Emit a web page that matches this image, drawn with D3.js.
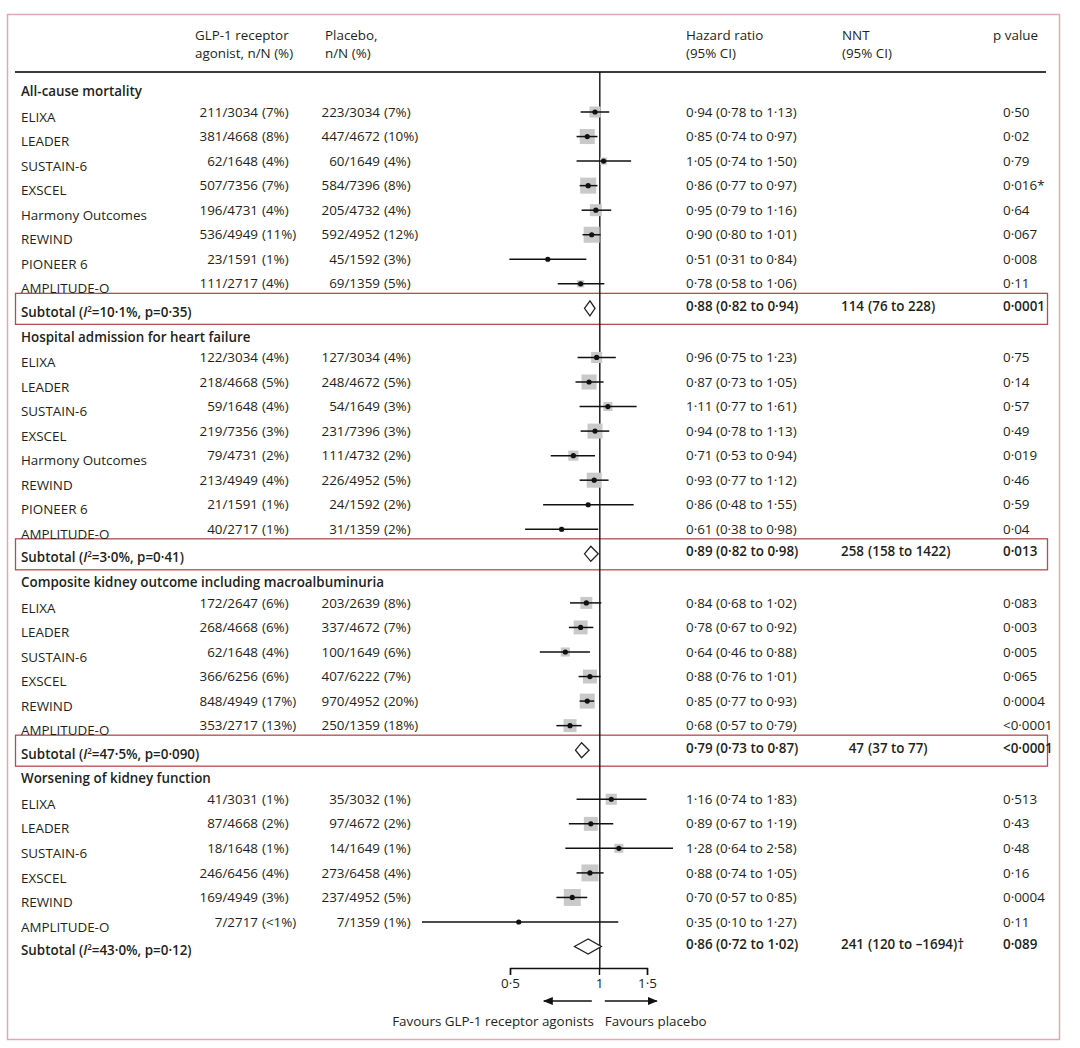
<!DOCTYPE html>
<html>
<head>
<meta charset="utf-8">
<script src="https://cdn.jsdelivr.net/npm/d3@7/dist/d3.min.js"></script>
<style>
  html, body { margin: 0; padding: 0; background: #fff; }
  svg { display: block; }
  text { font-family: "Open Sans", "Noto Sans", sans-serif; fill: #231f20; }
</style>
</head>
<body>
<svg id="chart" width="1080" height="1048"></svg>
<script>
// ---------------- DATA ----------------
const sectionTitles = [
  "All-cause mortality",
  "Hospital admission for heart failure",
  "Composite kidney outcome including macroalbuminuria",
  "Worsening of kidney function"
];
const studySection = [0,0,0,0,0,0,0,0, 1,1,1,1,1,1,1,1, 2,2,2,2,2,2, 3,3,3,3,3,3];
const studyNames = [
  "ELIXA","LEADER","SUSTAIN-6","EXSCEL","Harmony Outcomes","REWIND","PIONEER 6","AMPLITUDE-O",
  "ELIXA","LEADER","SUSTAIN-6","EXSCEL","Harmony Outcomes","REWIND","PIONEER 6","AMPLITUDE-O",
  "ELIXA","LEADER","SUSTAIN-6","EXSCEL","REWIND","AMPLITUDE-O",
  "ELIXA","LEADER","SUSTAIN-6","EXSCEL","REWIND","AMPLITUDE-O"
];
const glpEvents = [
  "211/3034","381/4668","62/1648","507/7356","196/4731","536/4949","23/1591","111/2717",
  "122/3034","218/4668","59/1648","219/7356","79/4731","213/4949","21/1591","40/2717",
  "172/2647","268/4668","62/1648","366/6256","848/4949","353/2717",
  "41/3031","87/4668","18/1648","246/6456","169/4949","7/2717"
];
const glpPct = [
  "(7%)","(8%)","(4%)","(7%)","(4%)","(11%)","(1%)","(4%)",
  "(4%)","(5%)","(4%)","(3%)","(2%)","(4%)","(1%)","(1%)",
  "(6%)","(6%)","(4%)","(6%)","(17%)","(13%)",
  "(1%)","(2%)","(1%)","(4%)","(3%)","(<1%)"
];
const placeboEvents = [
  "223/3034","447/4672","60/1649","584/7396","205/4732","592/4952","45/1592","69/1359",
  "127/3034","248/4672","54/1649","231/7396","111/4732","226/4952","24/1592","31/1359",
  "203/2639","337/4672","100/1649","407/6222","970/4952","250/1359",
  "35/3032","97/4672","14/1649","273/6458","237/4952","7/1359"
];
const placeboPct = [
  "(7%)","(10%)","(4%)","(8%)","(4%)","(12%)","(3%)","(5%)",
  "(4%)","(5%)","(3%)","(3%)","(2%)","(5%)","(2%)","(2%)",
  "(8%)","(7%)","(6%)","(7%)","(20%)","(18%)",
  "(1%)","(2%)","(1%)","(4%)","(5%)","(1%)"
];
const hr = [0.94,0.85,1.05,0.86,0.95,0.90,0.51,0.78, 0.96,0.87,1.11,0.94,0.71,0.93,0.86,0.61, 0.84,0.78,0.64,0.88,0.85,0.68, 1.16,0.89,1.28,0.88,0.70,0.35];
const hrLow = [0.78,0.74,0.74,0.77,0.79,0.80,0.31,0.58, 0.75,0.73,0.77,0.78,0.53,0.77,0.48,0.38, 0.68,0.67,0.46,0.76,0.77,0.57, 0.74,0.67,0.64,0.74,0.57,0.10];
const hrHigh = [1.13,0.97,1.50,0.97,1.16,1.01,0.84,1.06, 1.23,1.05,1.61,1.13,0.94,1.12,1.55,0.98, 1.02,0.92,0.88,1.01,0.93,0.79, 1.83,1.19,2.58,1.05,0.85,1.27];
// study weight (%) - drives marker square area
const studyWeight = [12,22,5,25,14,25,1.6,5, 12,22,8,22,10,22,0.9,2.4, 14,19,8,19,22,16.5, 12,19,8,28,28,1.6];
const pValues = [
  "0·50","0·02","0·79","0·016*","0·64","0·067","0·008","0·11",
  "0·75","0·14","0·57","0·49","0·019","0·46","0·59","0·04",
  "0·083","0·003","0·005","0·065","0·0004","<0·0001",
  "0·513","0·43","0·48","0·16","0·0004","0·11"
];
// subtotals
const subI2 = ["10·1%","3·0%","47·5%","43·0%"];
const subHetP = ["0·35","0·41","0·090","0·12"];
const subHr = [0.88,0.89,0.79,0.86];
const subLow = [0.82,0.82,0.73,0.72];
const subHigh = [0.94,0.98,0.87,1.02];
const subNNT = ["114","258","47","241"];
const subNNTci = ["(76 to 228)","(158 to 1422)","(37 to 77)","(120 to –1694)†"];
const subP = ["0·0001","0·013","<0·0001","0·089"];
const subBoxed = [true,true,true,false];
// axis
const axisTicks = [0.5, 1, 1.5];
const axisTickLabels = ["0·5","1","1·5"];

// ---------------- LAYOUT ----------------
const svg = d3.select("#chart");
const FS = 13.4;
const BW = 600;
const textColor = "#231f20";
const boxColor = "#b94a4f";

// build rows
const rows = [];
let idx = 0;
sectionTitles.forEach((t, s) => {
  rows.push({type: "header", s, i: idx++, label: t});
  studyNames.forEach((n, k) => {
    if (studySection[k] === s) rows.push({type: "study", s, k, i: idx++});
  });
  rows.push({type: "subtotal", s, i: idx++});
});

const y = d3.scaleLinear().domain([1, 34]).range([112, 922]);
const x = d3.scaleLog().domain([0.1, 2.58]).range([422, 673]);
const axisScale = d3.scaleLog().domain([0.5, 1, 1.5]).range([510, 599, 647]);
const size = d3.scaleSqrt().domain([0, 25]).range([0, 16]);
const fmt = v => d3.format(".2f")(v).replace(".", "·");
const hrText = (a, b, c) => `${fmt(a)} (${fmt(b)} to ${fmt(c)})`;

const colGLP = 258, colPla = 380, colHR = 686, colNNT = 864, colP = 1003, colLabel = 21;
const base = 4.6; // center -> baseline

// frame
svg.append("rect").attr("x", 7.5).attr("y", 14.5).attr("width", 1052).attr("height", 1025)
  .attr("fill", "none").attr("stroke", "#dcaab1").attr("stroke-width", 1.5);

// headers
const hdr = svg.append("g").attr("font-size", FS);
function hline(xx, lines, anchor) {
  lines.forEach((l, j) => hdr.append("text").attr("x", xx).attr("y", 35 + j * 18 + base)
    .attr("text-anchor", anchor || "start").text(l));
}
hline(195, ["GLP-1 receptor", "agonist, n/N (%)"]);
hline(325, ["Placebo,", "n/N (%)"]);
hline(686, ["Hazard ratio", "(95% CI)"]);
hline(842, ["NNT", "(95% CI)"]);
hline(1038, ["p value"], "end");

svg.append("line").attr("x1", 15).attr("x2", 1046).attr("y1", 72).attr("y2", 72)
  .attr("stroke", "#3a3a3a").attr("stroke-width", 2);

// subtotal boxes
rows.filter(r => r.type === "subtotal" && subBoxed[r.s]).forEach(r => {
  svg.append("rect").attr("x", 15.5).attr("y", y(r.i) - 15).attr("width", 1032).attr("height", 31)
    .attr("fill", "none").attr("stroke", boxColor).attr("stroke-width", 1.3);
});

// reference line at HR = 1
svg.append("line").attr("x1", x(1)).attr("x2", x(1)).attr("y1", 72).attr("y2", 968)
  .attr("stroke", "#111").attr("stroke-width", 1.4);

const g = svg.append("g").attr("font-size", FS);

rows.forEach(r => {
  const cy = y(r.i);
  if (r.type === "header") {
    g.append("text").attr("x", colLabel).attr("y", cy + 4 + base).attr("font-weight", BW).text(r.label);
  } else if (r.type === "study") {
    const k = r.k;
    g.append("text").attr("x", colLabel).attr("y", cy + 5 + base).text(studyNames[k]);
    g.append("text").attr("x", colGLP).attr("y", cy + base).attr("text-anchor", "end").text(glpEvents[k]);
    g.append("text").attr("x", colGLP + 4).attr("y", cy + base).text(glpPct[k]);
    g.append("text").attr("x", colPla).attr("y", cy + base).attr("text-anchor", "end").text(placeboEvents[k]);
    g.append("text").attr("x", colPla + 4).attr("y", cy + base).text(placeboPct[k]);
    g.append("text").attr("x", colHR).attr("y", cy + base).text(hrText(hr[k], hrLow[k], hrHigh[k]));
    g.append("text").attr("x", colP).attr("y", cy + base).text(pValues[k]);
    // marker
    const sz = size(studyWeight[k]);
    g.append("rect").attr("x", x(hr[k]) - sz / 2).attr("y", cy - sz / 2).attr("width", sz).attr("height", sz)
      .attr("fill", "#c9c9c9");
    g.append("line").attr("x1", x(hrLow[k])).attr("x2", x(hrHigh[k])).attr("y1", cy).attr("y2", cy)
      .attr("stroke", "#111").attr("stroke-width", 1.5);
    g.append("circle").attr("cx", x(hr[k])).attr("cy", cy).attr("r", 2.6).attr("fill", "#111");
  } else {
    const s = r.s;
    const t = g.append("text").attr("x", colLabel).attr("y", cy + 4 + base).attr("font-weight", BW);
    t.append("tspan").text("Subtotal  (");
    t.append("tspan").attr("font-style", "italic").text("I");
    t.append("tspan").attr("font-size", 8).attr("dy", -5).text("2");
    t.append("tspan").attr("dy", 5).text(`=${subI2[s]}, p=${subHetP[s]})`);
    g.append("text").attr("x", colHR).attr("y", cy - 2 + base).attr("font-weight", BW)
      .text(hrText(subHr[s], subLow[s], subHigh[s]));
    g.append("text").attr("x", colNNT).attr("y", cy - 2 + base).attr("font-weight", BW)
      .attr("text-anchor", "end").text(subNNT[s]);
    g.append("text").attr("x", colNNT + 4).attr("y", cy - 2 + base).attr("font-weight", BW).text(subNNTci[s]);
    g.append("text").attr("x", colP).attr("y", cy - 2 + base).attr("font-weight", BW).text(subP[s]);
    const h = 7.5;
    const pts = [[x(subLow[s]), cy], [x(subHr[s]), cy - h], [x(subHigh[s]), cy], [x(subHr[s]), cy + h]];
    g.append("path").attr("d", d3.line()(pts) + "Z").attr("fill", "#fff")
      .attr("stroke", "#222").attr("stroke-width", 1.3);
  }
});

// axis
const axisY = 968;
const ax = svg.append("g").attr("transform", `translate(0,${axisY})`)
  .call(d3.axisBottom(axisScale).tickValues(axisTicks)
    .tickFormat((d, i) => axisTickLabels[i]).tickSize(7).tickSizeOuter(7));
ax.select(".domain").attr("stroke", "#111").attr("stroke-width", 1.4);
ax.selectAll(".tick line").attr("stroke", "#111").attr("stroke-width", 1.4);
ax.selectAll(".tick text").attr("font-size", FS).attr("font-family", "Open Sans").attr("fill", textColor).attr("y", 10);

// arrows
const arrowY = 1001;
const c1 = x(1);
const defs = svg.append("defs");
defs.append("marker").attr("id", "ah").attr("viewBox", "0 0 10 10").attr("refX", 9).attr("refY", 5)
  .attr("markerWidth", 10).attr("markerHeight", 10).attr("markerUnits", "userSpaceOnUse")
  .attr("orient", "auto").append("path").attr("d", "M0,1 L10,5 L0,9 Z").attr("fill", "#111");
svg.append("line").attr("x1", c1 - 8).attr("x2", c1 - 56).attr("y1", arrowY).attr("y2", arrowY)
  .attr("stroke", "#111").attr("stroke-width", 1.4).attr("marker-end", "url(#ah)");
svg.append("line").attr("x1", c1 + 5).attr("x2", c1 + 57).attr("y1", arrowY).attr("y2", arrowY)
  .attr("stroke", "#111").attr("stroke-width", 1.4).attr("marker-end", "url(#ah)");
svg.append("text").attr("x", c1 - 6).attr("y", 1021 + base).attr("font-size", FS)
  .attr("text-anchor", "end").text("Favours GLP-1 receptor agonists");
svg.append("text").attr("x", c1 + 5).attr("y", 1021 + base).attr("font-size", FS)
  .text("Favours placebo");
</script>
</body>
</html>
